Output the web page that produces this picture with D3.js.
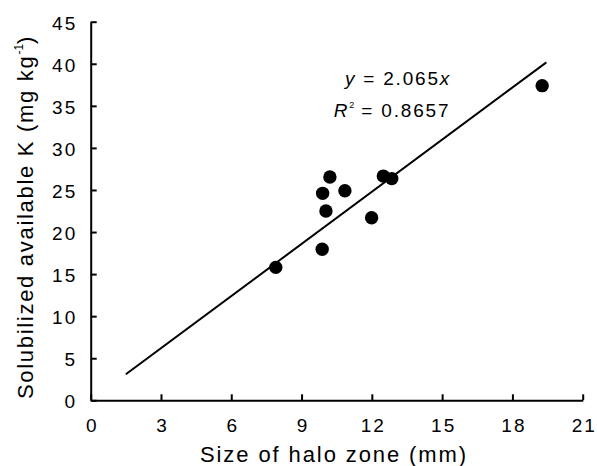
<!DOCTYPE html>
<html><head><meta charset="utf-8">
<script src="https://cdn.jsdelivr.net/npm/d3@7"></script>
<style>
body{margin:0;background:#fff;}
svg text{font-family:"Liberation Sans",Arial,sans-serif;fill:#000;}
</style></head>
<body><svg id="c" width="597" height="466"></svg>
<script>
const haloSize = [7.9, 9.88, 10.21, 9.9, 10.85, 10.04, 11.99, 12.49, 12.85, 19.27];
const solubK   = [15.8, 17.95, 26.55, 24.6, 24.9, 22.5, 21.7, 26.65, 26.35, 37.4];
const xTicks = [0, 3, 6, 9, 12, 15, 18, 21];
const yTicks = [0, 5, 10, 15, 20, 25, 30, 35, 40, 45];
const slope = 2.065;
const fitRange = [1.5, 19.45];
const eqText = "2.065";
const r2Text = "0.8657";

const svg = d3.select("#c");
const L = 90.7, R = 582.7, T = 21.7, B = 400.3;
const x = d3.scaleLinear().domain([0, 21]).range([L, R]);
const y = d3.scaleLinear().domain([0, 45]).range([B, T]);

// x axis
const xa = svg.append("g").attr("transform", `translate(0,${B})`)
  .call(d3.axisBottom(x).tickValues(xTicks).tickSizeInner(-6).tickSizeOuter(0).tickPadding(0));
xa.select(".domain").attr("stroke-width", 2).attr("stroke", "#000");
xa.selectAll(".tick line").attr("stroke-width", 2).attr("stroke", "#000");
xa.selectAll(".tick text").attr("font-size", 19).attr("y", 31.5).attr("dy", 0)
  .style("letter-spacing", "2px").attr("dx", 1);

// y axis
const ya = svg.append("g").attr("transform", `translate(${L},0)`)
  .call(d3.axisLeft(y).tickValues(yTicks).tickSizeInner(-6).tickSizeOuter(0).tickPadding(0));
ya.select(".domain").attr("stroke-width", 2).attr("stroke", "#000");
ya.selectAll(".tick line").attr("stroke-width", 2).attr("stroke", "#000");
ya.selectAll(".tick text").attr("font-size", 19).attr("x", -13.5).attr("dy", 7.3)
  .style("letter-spacing", "2px");

// fit line
svg.append("line")
  .attr("x1", x(fitRange[0])).attr("y1", y(slope * fitRange[0]))
  .attr("x2", x(fitRange[1])).attr("y2", y(slope * fitRange[1]))
  .attr("stroke", "#000").attr("stroke-width", 2);

// points
svg.selectAll("circle.pt").data(haloSize).join("circle")
  .attr("class", "pt")
  .attr("cx", d => x(d)).attr("cy", (d, i) => y(solubK[i]))
  .attr("r", 6.7).attr("fill", "#000");

// equation
const eq = svg.append("text").attr("x", 398).attr("y", 85).attr("text-anchor", "middle")
  .attr("font-size", 19).style("letter-spacing", "1.8px");
eq.append("tspan").attr("font-style", "italic").text("y");
eq.append("tspan").text(" = " + eqText);
eq.append("tspan").attr("font-style", "italic").text("x");

const r2 = svg.append("text").attr("x", 392).attr("y", 117).attr("text-anchor", "middle")
  .attr("font-size", 19).style("letter-spacing", "1.8px");
r2.append("tspan").attr("font-style", "italic").text("R");
r2.append("tspan").attr("font-size", 9).attr("dy", -9).style("letter-spacing", "0px").text("2");
r2.append("tspan").attr("dy", 9).text(" = " + r2Text);

// x title
svg.append("text").attr("x", 334).attr("y", 461.5).attr("text-anchor", "middle")
  .attr("font-size", 22).style("letter-spacing", "1.9px")
  .text("Size of halo zone (mm)");

// y title
const yt = svg.append("text").attr("transform", "translate(33,217) rotate(-90)")
  .attr("text-anchor", "middle").attr("font-size", 22).style("letter-spacing", "1.7px");
yt.append("tspan").text("Solubilized available K (mg kg");
yt.append("tspan").attr("font-size", 12).attr("dy", -10).style("letter-spacing", "0px").text("-1");
yt.append("tspan").attr("dy", 10).text(")");
</script></body></html>
